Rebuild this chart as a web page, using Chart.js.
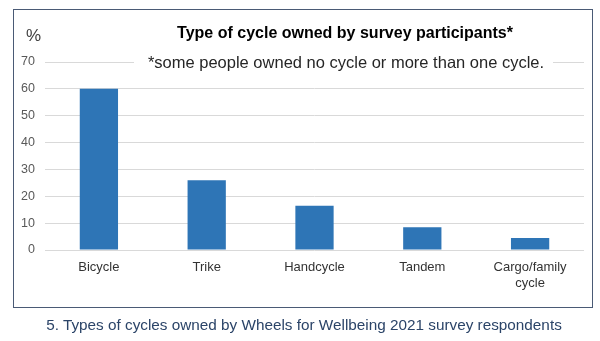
<!DOCTYPE html>
<html>
<head>
<meta charset="utf-8">
<script src="https://cdn.jsdelivr.net/npm/chart.js@4"></script>
<style>
body{margin:0;background:#fff;width:600px;height:341px;overflow:hidden;position:relative;font-family:"Liberation Sans",Arial,sans-serif;}
#frame{position:absolute;left:13px;top:9px;width:578px;height:297px;border:1.5px solid #4a5a75;}
#wrap{position:absolute;left:0;top:0;width:600px;height:341px;}
#caption{position:absolute;left:0;width:608px;top:316px;text-align:center;font-size:15.3px;line-height:18px;color:#2b4468;}
</style>
</head>
<body>
<div id="frame"></div>
<div id="wrap"><canvas id="chart" width="600" height="341"></canvas></div>
<div id="caption">5. Types of cycles owned by Wheels for Wellbeing 2021 survey respondents</div>
<script>
// DATA
let categories = [["Bicycle"], ["Trike"], ["Handcycle"], ["Tandem"], ["Cargo/family", "cycle"]];
let percents = [60, 26, 16.5, 8.5, 4.5];
let yTicks = [0, 10, 20, 30, 40, 50, 60, 70];

let titleText = "Type of cycle owned by survey participants*";
let noteText = "*some people owned no cycle or more than one cycle.";

// TITLE + NOTE drawn over the plot
let overlay = {
id: "overlay",
afterDraw(chart){
let ctx = chart.ctx;
let y70 = chart.scales.y.getPixelForValue(70);
ctx.save();
ctx.fillStyle = "#fff";
ctx.fillRect(134, y70 - 9, 419, 18);
ctx.textBaseline = "middle";
ctx.textAlign = "center";
ctx.fillStyle = "#262626";
ctx.font = "16.5px 'Liberation Sans', Arial";
ctx.fillText(noteText, 346, y70 + 1);
ctx.fillStyle = "#000";
ctx.font = "bold 16px 'Liberation Sans', Arial";
ctx.fillText(titleText, 345, 34);
ctx.textAlign = "left";
ctx.fillStyle = "#404040";
ctx.font = "17px 'Liberation Sans', Arial";
ctx.fillText("%", 26, 36);
ctx.restore();
}
};

new Chart(document.getElementById("chart"), {
type: "bar",
data: {
labels: categories,
datasets: [{
data: percents,
backgroundColor: "#2e75b6",
categoryPercentage: 1,
barPercentage: 0.355
}]
},
options: {
responsive: false,
animation: false,
layout: { padding: { top: 62, right: 16, bottom: 0, left: 0 } },
plugins: { legend: { display: false }, tooltip: { enabled: false } },
scales: {
x: {
grid: { display: false },
border: { display: false },
ticks: { color: "#333333", font: { size: 13, family: "'Liberation Sans', Arial" }, padding: 2, maxRotation: 0, autoSkip: false },
afterFit(scale){ scale.height = 91; }
},
y: {
min: 0,
max: 70,
afterBuildTicks(scale){ scale.ticks = yTicks.map(v => ({ value: v })); },
grid: { color: "#d9d9d9", lineWidth: 1, drawTicks: false },
border: { display: false },
ticks: { color: "#595959", font: { size: 12.5, family: "'Liberation Sans', Arial" }, padding: 10 },
afterFit(scale){ scale.width = 45; }
}
}
},
plugins: [overlay]
});
</script>
</body>
</html>
